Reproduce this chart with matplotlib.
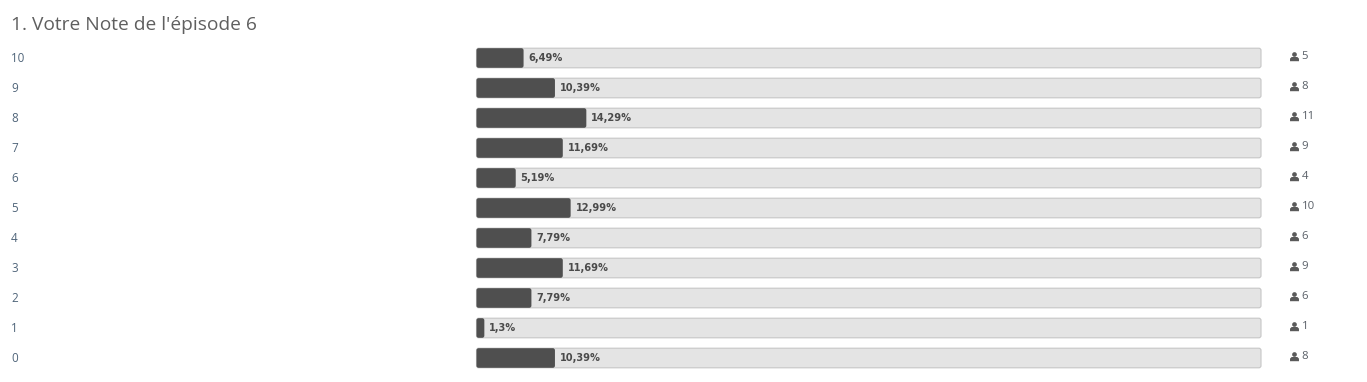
import numpy as np
import matplotlib
matplotlib.use("Agg")
import matplotlib.pyplot as plt
from matplotlib.patches import FancyBboxPatch
from matplotlib.path import Path
from matplotlib.transforms import blended_transform_factory

title = "1. Votre Note de l'épisode 6"
notes = ["10", "9", "8", "7", "6", "5", "4", "3", "2", "1", "0"]
percent_labels = ["6,49%", "10,39%", "14,29%", "11,69%", "5,19%", "12,99%",
                  "7,79%", "11,69%", "7,79%", "1,3%", "10,39%"]
percent_values = [6.49, 10.39, 14.29, 11.69, 5.19, 12.99, 7.79, 11.69, 7.79, 1.3, 10.39]
votes = [5, 8, 11, 9, 4, 10, 6, 9, 6, 1, 8]

W, H = 1367, 382
fig = plt.figure(figsize=(W / 100, H / 100), dpi=100, facecolor="white")
ax = fig.add_axes([476.5 / W, 1 - 373 / H, 784.5 / W, 330 / H])
ax.set_xlim(0, 100)
ax.set_ylim(10.5, -0.5)
ax.axis("off")

asp = 7.85 / 30
to_fig_x = blended_transform_factory(fig.transFigure, ax.transData)

# person icon: a head and shoulders
head = Path.circle((0, 0.42), 0.5)
body = Path([(-0.95, -1), (-0.95, -0.45), (-0.6, -0.1), (0.6, -0.1), (0.95, -0.45), (0.95, -1), (-0.95, -1)],
            [Path.MOVETO, Path.LINETO, Path.LINETO, Path.LINETO, Path.LINETO, Path.LINETO, Path.CLOSEPOLY])
person = Path.make_compound_path(head, body)


def box(x, y, w, face, edge, lw, z):
    ax.add_patch(FancyBboxPatch((x, y - 0.327), w, 0.654,
                                boxstyle="round,pad=0,rounding_size=0.28",
                                mutation_aspect=asp, fc=face, ec=edge, lw=lw,
                                zorder=z, clip_on=False))


for i, (note, val, lab, n) in enumerate(zip(notes, percent_values, percent_labels, votes)):
    shown = int(val)  # the page draws the bar from the whole percent
    box(0, i, 100, "#e4e4e4", "#c6c6c6", 0.8, 1)
    box(0, i, shown, "#4f4f4f", "none", 0, 2)
    ax.text(shown + 0.62, i + 0.01, lab, fontsize=7.1, fontweight="bold",
            family="DejaVu Sans", color="#4a4a4a", va="center", ha="left", zorder=3)
    ax.text(11 / W, i, note, transform=to_fig_x, fontsize=8.4, family="Open Sans",
            color="#50657a", va="center", ha="left")
    ax.scatter([1294 / W], [i - 0.07], transform=to_fig_x, s=46, color="#5a5a5a",
               marker=person, linewidths=0, clip_on=False)
    ax.text(1301.5 / W, i - 0.04, str(n), transform=to_fig_x, fontsize=8.2,
            family="Open Sans", color="#5a6068", va="center", ha="left")

fig.text(11 / W, 1 - 25 / H, title, fontsize=13.75, family="Open Sans",
         color="#5f5f5f", va="center", ha="left")

fig.savefig("out.png", dpi=100, facecolor="white")
